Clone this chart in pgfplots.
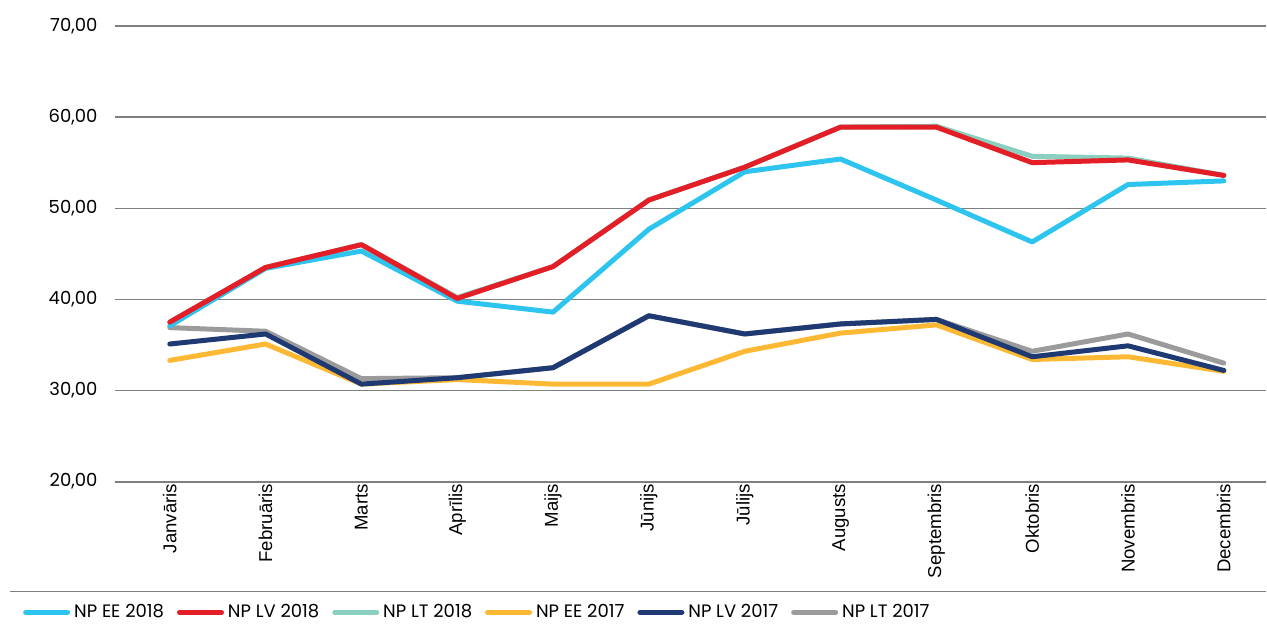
\documentclass[border=0pt]{standalone}
\usepackage{fontspec}
\setmainfont{Poppins}
\newfontfamily\monthfont{Liberation Sans}
\usepackage{pgfplots}
\pgfplotsset{compat=1.18}
\definecolor{cEE18}{HTML}{2EC4F0}
\definecolor{cLV18}{HTML}{E31E26}
\definecolor{cLT18}{HTML}{8ACFBF}
\definecolor{cEE17}{HTML}{FDB934}
\definecolor{cLV17}{HTML}{1F3A73}
\definecolor{cLT17}{HTML}{9B9B9B}
\definecolor{gridc}{HTML}{7F7F7F}
\begin{document}
\begin{tikzpicture}
\begin{axis}[
  scale only axis, width=576pt, height=228pt,
  xmin=-0.573, xmax=11.44, ymin=20, ymax=70,
  ytick={20,30,40,50,60,70},
  xtick={0,...,11},
  xticklabels={Janvāris,Februāris,Marts,Aprīlis,Maijs,Jūnijs,Jūlijs,Augusts,Septembris,Oktobris,Novembris,Decembris},
  xticklabel style={rotate=90, anchor=east, font=\monthfont\fontsize{9.3}{11}\selectfont, inner sep=0pt, xshift=-1pt},
  yticklabel style={font=\fontsize{9}{11}\selectfont, inner sep=0pt, xshift=-8.5pt},
  /pgf/number format/.cd, fixed, fixed zerofill, precision=2, use comma, assume math mode=true,
  /pgfplots/.cd,
  axis line style={draw=none},
  major tick length=0pt,
  ymajorgrids, grid style={gridc, line width=0.65pt},
  clip=false,
  legend columns=6,
  legend style={draw=none, fill=none, at={(rel axis cs:-0.08,-0.287)}, anchor=west, font=\fontsize{9}{11}\selectfont, inner sep=0pt, /tikz/every even column/.append style={column sep=4.5pt}},
  legend image code/.code={\draw[#1, line width=2.5pt, line cap=round] (0pt,0pt) -- (21pt,0pt);},
  every axis plot/.append style={line width=2.5pt, line join=round, line cap=round},
]
\path (rel axis cs:-0.0998,1.057) rectangle (rel axis cs:1.0,-0.3114);
\draw[gridc, line width=1pt] (rel axis cs:0,0) -- (rel axis cs:1,0);
\draw[gridc, line width=0.8pt] (rel axis cs:-0.0911,-0.241) -- (rel axis cs:1,-0.241);

\addlegendimage{cEE18}\addlegendentry{NP EE 2018}
\addlegendimage{cLV18}\addlegendentry{NP LV 2018}
\addlegendimage{cLT18}\addlegendentry{NP LT 2018}
\addlegendimage{cEE17}\addlegendentry{NP EE 2017}
\addlegendimage{cLV17}\addlegendentry{NP LV 2017}
\addlegendimage{cLT17}\addlegendentry{NP LT 2017}

% NP LT 2017
\addplot[cLT17, forget plot] coordinates {(0,36.9)(1,36.5)(2,31.3)(3,31.4)(4,32.5)(5,38.2)(6,36.2)(7,37.3)(8,37.8)(9,34.3)(10,36.2)(11,33.0)};
% NP EE 2017
\addplot[cEE17, forget plot] coordinates {(0,33.3)(1,35.1)(2,30.7)(3,31.2)(4,30.7)(5,30.7)(6,34.3)(7,36.3)(8,37.2)(9,33.4)(10,33.7)(11,32.1)};
% NP LV 2017
\addplot[cLV17, forget plot] coordinates {(0,35.1)(1,36.2)(2,30.7)(3,31.4)(4,32.5)(5,38.2)(6,36.2)(7,37.3)(8,37.8)(9,33.7)(10,34.9)(11,32.2)};
% NP LT 2018
\addplot[cLT18, forget plot] coordinates {(0,37.5)(1,43.5)(2,46.0)(3,40.2)(4,43.6)(5,50.9)(6,54.5)(7,58.9)(8,59.0)(9,55.7)(10,55.5)(11,53.6)};
% NP EE 2018
\addplot[cEE18, forget plot] coordinates {(0,37.1)(1,43.4)(2,45.3)(3,39.8)(4,38.6)(5,47.7)(6,54.0)(7,55.4)(8,50.9)(9,46.3)(10,52.6)(11,53.0)};
% NP LV 2018
\addplot[cLV18, forget plot] coordinates {(0,37.5)(1,43.5)(2,46.0)(3,40.1)(4,43.6)(5,50.9)(6,54.5)(7,58.9)(8,58.9)(9,55.0)(10,55.3)(11,53.6)};
\end{axis}
\end{tikzpicture}
\end{document}
